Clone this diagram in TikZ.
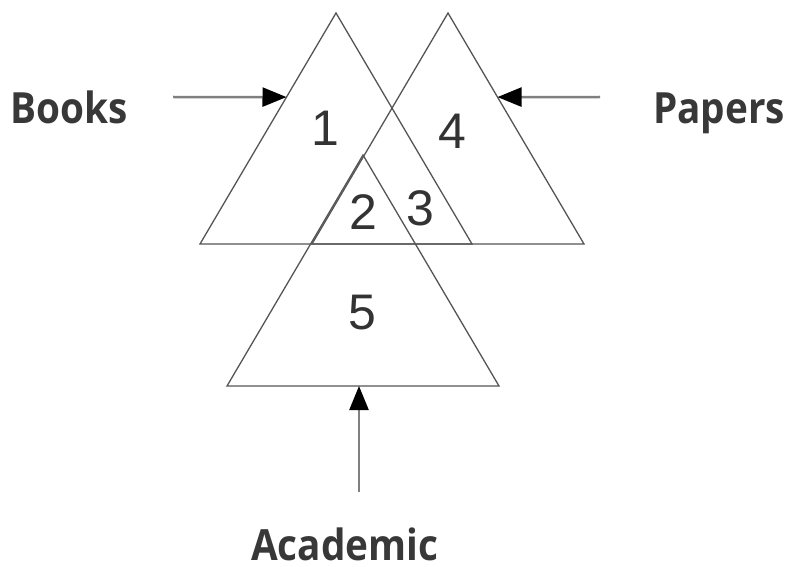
\documentclass[tikz,border=0pt]{standalone}
\usepackage{fontspec}
\setmainfont{Liberation Sans}
\newfontfamily\labelfont[FakeStretch=0.9]{Open Sans}
\usetikzlibrary{arrows.meta, calc}
\definecolor{linegray}{HTML}{555555}
\definecolor{labelgray}{HTML}{383838}
\tikzset{
tri/.style={
       draw=linegray,
       line width=1.3pt,
       line join=miter,
       },
region/.style={
       font=\fontsize{50}{50}\selectfont,
       text=black!80,
       inner sep=0pt,
       },
source/.style={
       font=\labelfont\bfseries\fontsize{43}{43}\selectfont,
       text=labelgray,
       inner sep=0pt,
       anchor=base west,
       },
feed/.style={
       draw=gray,
       line width=2.5pt,
       -{Triangle[length=24pt,width=19pt,color=black]},
       },
}

\begin{document}
\begin{tikzpicture}[x=1pt,y=-1pt]
      \useasboundingbox (0,0) rectangle (789,567);

      % three congruent triangles
      \foreach \n/\ax/\ay in {books/336/13, papers/448/13, academic/363/155} {
          \draw[tri] (\ax,\ay) coordinate (\n-top) -- ++(136,231) coordinate (\n-right)
              -- ++(-272,0) coordinate (\n-left) -- cycle;
      }

      % region numbers
      \foreach \t/\x/\y in {1/325/128, 4/452/131, 2/363/212, 3/420/208, 5/362/313} {
          \node[region] (r\t) at (\x,\y) {\t};
      }

      % sources
      \node[source] (lbooks) at (10,124) {Books};
      \node[source] (lpapers) at (653,124) {Papers};
      \node[source, text depth=0pt] (lacademic) at (251,560) {Academic};

      \coordinate (books-in) at ($(books-top)!0.364!(books-left)$);
      \coordinate (papers-in) at ($(papers-top)!0.364!(papers-right)$);
      \coordinate (academic-in) at ([xshift=-4pt]$(academic-left)!0.5!(academic-right)$);
      \coordinate (books-from) at (173,97);
      \coordinate (papers-from) at (600,97);
      \coordinate (academic-from) at (359,492);

      \foreach \n in {books, papers, academic} {
          \draw[feed] (\n-from) -- (\n-in);
      }
\end{tikzpicture}
\end{document}
